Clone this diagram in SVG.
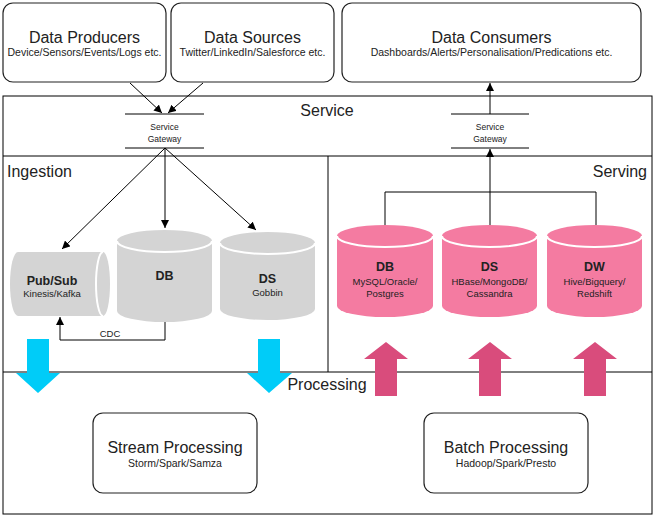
<svg xmlns="http://www.w3.org/2000/svg" width="655" height="516" viewBox="0 0 655 516">
<defs>
<marker id="ah" viewBox="0 0 10 10" refX="10" refY="5" markerWidth="8" markerHeight="8" markerUnits="userSpaceOnUse" orient="auto">
<path d="M0,0 L10,5 L0,10 Z" fill="#000"/>
</marker>
<style>
text{font-family:"Liberation Sans",Arial,sans-serif;fill:#222;text-anchor:middle}
.t{font-size:16px}
.s{font-size:9.5px}
.s2{font-size:10.5px}
.g{font-size:8.5px}
.b{font-size:12.5px;font-weight:bold}
.box{fill:#fff;stroke:#222;stroke-width:1.2}
.ln{fill:none;stroke:#000;stroke-width:1}
.gray{fill:#d4d4d4}
.pink{fill:#f47ba1}
.lid{fill:none;stroke:#fff;stroke-width:2}
.blue{fill:#00ccf8}
.dpink{fill:#d94c7c}
</style>
</defs>
<rect width="655" height="516" fill="#fff"/>
<g id="frame">
<rect x="3" y="96" width="649" height="418" fill="none" stroke="#000" stroke-width="1"/>
<line x1="3" y1="156" x2="652" y2="156" stroke="#000"/>
<line x1="3" y1="372" x2="652" y2="372" stroke="#000"/>
<line x1="328" y1="156" x2="328" y2="372" stroke="#000"/>
<text class="t" x="327" y="116">Service</text>
<text class="t" x="7" y="177" style="text-anchor:start">Ingestion</text>
<text class="t" x="647" y="177" style="text-anchor:end">Serving</text>
<text class="t" x="327" y="390">Processing</text>
</g>
<g id="producers">
<rect class="box" x="3" y="3" width="163" height="79" rx="10"/>
<text class="t" x="84.5" y="43">Data Producers</text>
<text class="s2" x="84.5" y="56">Device/Sensors/Events/Logs etc.</text>
</g>
<g id="sources">
<rect class="box" x="171" y="3" width="163" height="79" rx="10"/>
<text class="t" x="252.5" y="43">Data Sources</text>
<text class="s2" x="252.5" y="56">Twitter/LinkedIn/Salesforce etc.</text>
</g>
<g id="consumers">
<rect class="box" x="342" y="3" width="299" height="79" rx="10"/>
<text class="t" x="491.5" y="43">Data Consumers</text>
<text class="s2" x="491.5" y="56">Dashboards/Alerts/Personalisation/Predications etc.</text>
</g>
<g id="gateway-in">
<line x1="125" y1="114" x2="204" y2="114" stroke="#000"/>
<line x1="125" y1="148" x2="204" y2="148" stroke="#000"/>
<text class="g" x="164.5" y="130">Service</text>
<text class="g" x="164.5" y="142">Gateway</text>
</g>
<g id="gateway-out">
<line x1="451" y1="114" x2="529" y2="114" stroke="#000"/>
<line x1="451" y1="148" x2="529" y2="148" stroke="#000"/>
<text class="g" x="490" y="130">Service</text>
<text class="g" x="490" y="142">Gateway</text>
</g>
<g id="pubsub">
<path class="gray" d="M18,252 L103,252 A7,32 0 0 1 103,316 L18,316 A8,32 0 0 1 18,252 Z"/>
<path class="lid" d="M103,252 A7,32 0 0 0 103,316"/>
<text class="b" x="52" y="285">Pub/Sub</text>
<text class="s" x="52" y="297">Kinesis/Kafka</text>
</g>
<g id="ing-db">
<path class="gray" d="M117,241 A47.5,11 0 0 1 212,241 L212,311 A47.5,11 0 0 1 117,311 Z"/>
<path class="lid" d="M117,241 A47.5,11 0 0 0 212,241"/>
<text class="b" x="164.5" y="280">DB</text>
</g>
<g id="ing-ds">
<path class="gray" d="M220,243 A47.5,11 0 0 1 315,243 L315,309 A47.5,11 0 0 1 220,309 Z"/>
<path class="lid" d="M220,243 A47.5,11 0 0 0 315,243"/>
<text class="b" x="267.5" y="283">DS</text>
<text class="s" x="267.5" y="296">Gobbin</text>
</g>
<g id="srv-db">
<path class="pink" d="M337,236 A48,11 0 0 1 433,236 L433,306 A48,11 0 0 1 337,306 Z"/>
<path class="lid" d="M337,236 A48,11 0 0 0 433,236"/>
<text class="b" x="385" y="271">DB</text>
<text class="s" x="385" y="285">MySQL/Oracle/</text>
<text class="s" x="385" y="297">Postgres</text>
</g>
<g id="srv-ds">
<path class="pink" d="M442,236 A47.5,11 0 0 1 537,236 L537,306 A47.5,11 0 0 1 442,306 Z"/>
<path class="lid" d="M442,236 A47.5,11 0 0 0 537,236"/>
<text class="b" x="489.5" y="271">DS</text>
<text class="s" x="489.5" y="285">HBase/MongoDB/</text>
<text class="s" x="489.5" y="297">Cassandra</text>
</g>
<g id="srv-dw">
<path class="pink" d="M547,236 A47.5,11 0 0 1 642,236 L642,306 A47.5,11 0 0 1 547,306 Z"/>
<path class="lid" d="M547,236 A47.5,11 0 0 0 642,236"/>
<text class="b" x="594.5" y="271">DW</text>
<text class="s" x="594.5" y="285">Hive/Bigquery/</text>
<text class="s" x="594.5" y="297">Redshift</text>
</g>
<g id="stream">
<rect class="box" x="93" y="413" width="164" height="80" rx="10"/>
<text class="t" x="175" y="453">Stream Processing</text>
<text class="s2" x="175" y="467">Storm/Spark/Samza</text>
</g>
<g id="batch">
<rect class="box" x="424" y="413" width="164" height="80" rx="10"/>
<text class="t" x="506" y="453">Batch Processing</text>
<text class="s2" x="506" y="467">Hadoop/Spark/Presto</text>
</g>
<g id="flow-arrows">
<path class="blue" d="M27,339 L49,339 L49,373 L60,373 L38,393 L16,373 L27,373 Z"/>
<path class="blue" d="M258,339 L280,339 L280,373 L292,373 L269,393 L247,373 L258,373 Z"/>
<path class="dpink" d="M375,396 L397,396 L397,359 L408,359 L386,342 L364,359 L375,359 Z"/>
<path class="dpink" d="M479,396 L501,396 L501,359 L512,359 L490,342 L468,359 L479,359 Z"/>
<path class="dpink" d="M584,396 L606,396 L606,359 L617,359 L595,342 L573,359 L584,359 Z"/>
</g>
<g id="connectors">
<line class="ln" x1="130" y1="83" x2="162" y2="113" marker-end="url(#ah)"/>
<line class="ln" x1="203" y1="83" x2="168" y2="113" marker-end="url(#ah)"/>
<line class="ln" x1="165" y1="148" x2="62" y2="249" marker-end="url(#ah)"/>
<line class="ln" x1="165" y1="148" x2="165" y2="228" marker-end="url(#ah)"/>
<line class="ln" x1="165" y1="148" x2="256" y2="230" marker-end="url(#ah)"/>
<line class="ln" x1="490" y1="114" x2="490" y2="83" marker-end="url(#ah)"/>
<polyline class="ln" points="385,225 385,192 596,192 596,225"/>
<line class="ln" x1="490" y1="225" x2="490" y2="149" marker-end="url(#ah)"/>
<polyline class="ln" points="165,322 165,340 60,340 60,317" marker-end="url(#ah)"/>
<text class="s" x="110" y="337">CDC</text>
</g>
</svg>
